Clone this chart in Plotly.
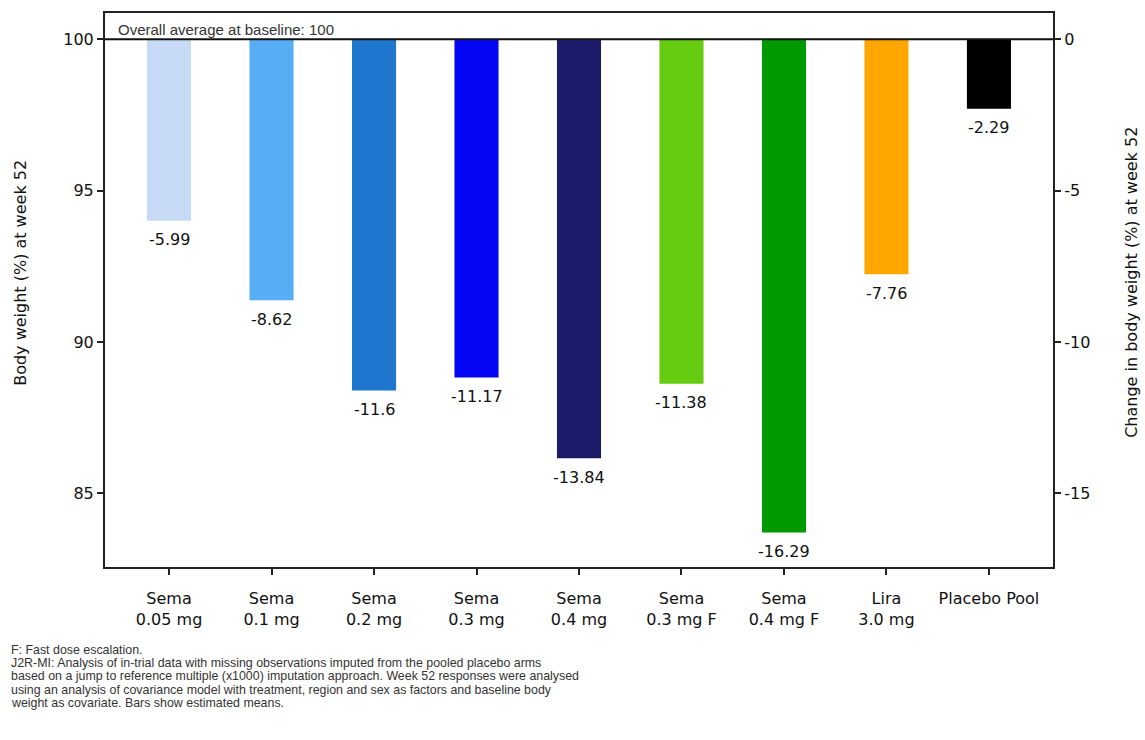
import plotly.graph_objects as go

categories = ["Sema<br>0.05 mg", "Sema<br>0.1 mg", "Sema<br>0.2 mg", "Sema<br>0.3 mg",
              "Sema<br>0.4 mg", "Sema<br>0.3 mg F", "Sema<br>0.4 mg F", "Lira<br>3.0 mg",
              "Placebo Pool"]
changes = [-5.99, -8.62, -11.6, -11.17, -13.84, -11.38, -16.29, -7.76, -2.29]
colors = ["#c6daf5", "#58aef5", "#1f76cf", "#0505f5", "#1b1b6b",
          "#66cc12", "#009a00", "#ffa500", "#000000"]
baseline = 100
left_ticks = [100, 95, 90, 85]
right_ticks = [0, -5, -10, -15]
right_ticktext = ["0", "-5", "-10", "-15"]

footnotes = [
    "F: Fast dose escalation.",
    "J2R-MI: Analysis of in-trial data with missing observations imputed from the pooled placebo arms",
    "based on a jump to reference multiple (x1000) imputation approach. Week 52 responses were analysed",
    "using an analysis of covariance model with treatment, region and sex as factors and baseline body",
    "weight as covariate. Bars show estimated means.",
]

FONT = "DejaVu Sans"
x_idx = list(range(len(categories)))
y_lo, y_hi = 82.57, 100.87

fig = go.Figure()
fig.add_trace(go.Bar(
    x=x_idx, y=changes, base=baseline, marker=dict(color=colors, line=dict(width=0)),
    width=0.43, showlegend=False, hoverinfo="skip"))
# invisible trace on secondary axis
fig.add_trace(go.Scatter(x=[x_idx[0]], y=[0], yaxis="y2", mode="markers",
                         marker=dict(opacity=0), showlegend=False, hoverinfo="skip"))

annotations = []
for i, v in zip(x_idx, changes):
    annotations.append(dict(x=i, y=baseline + v, xref="x", yref="y", text=str(v),
                            showarrow=False, yshift=-19, yanchor="middle",
                            font=dict(family=FONT, size=16, color="#111")))

annotations.append(dict(xref="paper", yref="paper", x=0, y=1, xanchor="left", yanchor="top",
                        xshift=11, yshift=-6, text="Overall average at baseline: 100",
                        showarrow=False, font=dict(family="Liberation Sans", size=15, color="#333")))

# axis titles
annotations.append(dict(xref="paper", yref="paper", x=0, y=0.531, xshift=-84,
                        xanchor="center", yanchor="middle",
                        text="Body weight (%) at week 52", textangle=-90, showarrow=False,
                        font=dict(family=FONT, size=16, color="#111")))
annotations.append(dict(xref="paper", yref="paper", x=1, y=0.513, xshift=79,
                        xanchor="center", yanchor="middle",
                        text="Change in body weight (%) at week 52", textangle=-90, showarrow=False,
                        font=dict(family=FONT, size=16, color="#111")))

for k, line in enumerate(footnotes):
    annotations.append(dict(xref="paper", yref="paper", x=0, y=0, xanchor="left", yanchor="middle",
                            xshift=-95, yshift=-(650 - 567 + 13.2 * k), text=line, showarrow=False,
                            borderpad=0,
                            font=dict(family="Liberation Sans", size=12.4, color="#333")))

fig.update_layout(
    width=1145, height=740,
    margin=dict(l=105, r=92, t=11, b=173),
    paper_bgcolor="white", plot_bgcolor="white",
    bargap=0.5,
    xaxis=dict(range=[-0.625, 8.625], tickvals=x_idx, ticktext=categories,
               ticks="outside", ticklen=6, tickwidth=1.5, tickcolor="#222",
               showline=True, linecolor="#222", linewidth=2, mirror=True,
               showgrid=False, zeroline=False, ticklabelstandoff=10,
               tickfont=dict(family=FONT, size=16, color="#111")),
    yaxis=dict(range=[y_lo, y_hi], tickvals=left_ticks, ticks="outside", ticklen=6,
               tickwidth=1.5, tickcolor="#222",
               showline=True, linecolor="#222", linewidth=2, mirror=True,
               showgrid=False, zeroline=False,
               tickfont=dict(family=FONT, size=16, color="#111")),
    yaxis2=dict(range=[y_lo - baseline, y_hi - baseline], tickvals=right_ticks,
                ticktext=right_ticktext,
                ticks="outside", ticklen=6, tickwidth=1.5, tickcolor="#222",
                overlaying="y", side="right", showline=True, linecolor="#222", linewidth=2,
                showgrid=False, zeroline=False,
                tickfont=dict(family=FONT, size=16, color="#111")),
    shapes=[dict(type="line", xref="paper", yref="y", x0=0, x1=1, y0=baseline, y1=baseline,
                 line=dict(color="#111", width=2))],
    annotations=annotations,
)

fig.write_html("out.html")
